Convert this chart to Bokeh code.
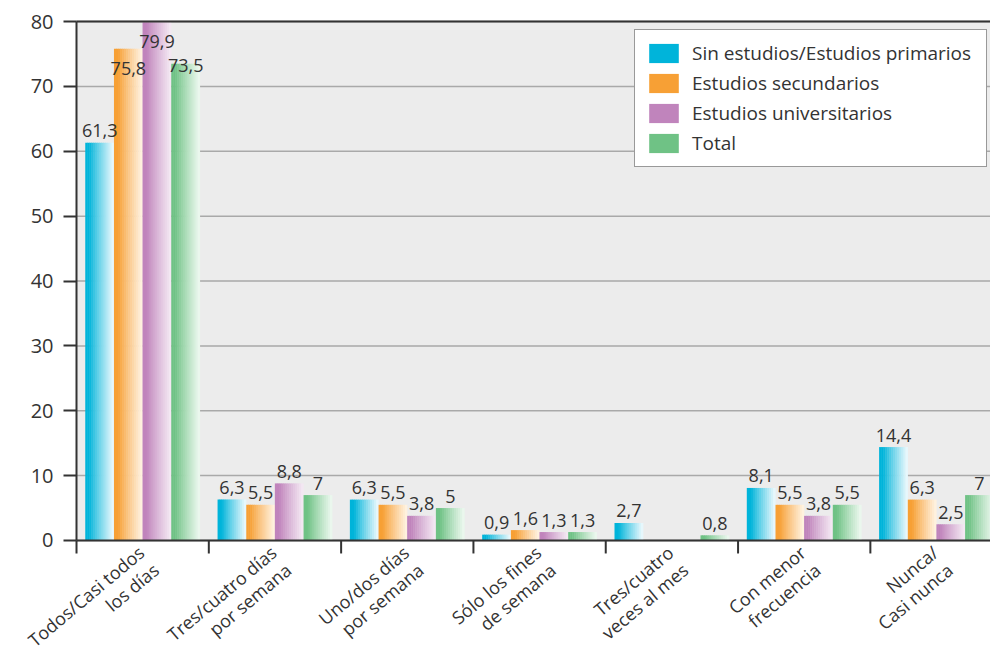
import math
from bokeh.plotting import figure
from bokeh.models import ColumnDataSource, Range1d, FixedTicker, Legend, LegendItem, BoxAnnotation
from bokeh.core.properties import value
from bokeh.embed import file_html
from bokeh.resources import INLINE

# ---------------- data ----------------
categories = [
    "Todos/Casi todos\nlos días",
    "Tres/cuatro días\npor semana",
    "Uno/dos días\npor semana",
    "Sólo los fines\nde semana",
    "Tres/cuatro\nveces al mes",
    "Con menor\nfrecuencia",
    "Nunca/\nCasi nunca",
]
series_names = [
    "Sin estudios/Estudios primarios",
    "Estudios secundarios",
    "Estudios universitarios",
    "Total",
]
sin_estudios = [61.3, 6.3, 6.3, 0.9, 2.7, 8.1, 14.4]
secundarios = [75.8, 5.5, 5.5, 1.6, None, 5.5, 6.3]
universitarios = [79.9, 8.8, 3.8, 1.3, None, 3.8, 2.5]
total = [73.5, 7.0, 5.0, 1.3, 0.8, 5.5, 7.0]
y_ticks = [0, 10, 20, 30, 40, 50, 60, 70, 80]

series_values = [sin_estudios, secundarios, universitarios, total]

# ---------------- style ----------------
FONT = "Open Sans"
TXT = "#333333"
AXIS = "#333333"
base_colors = [(0, 180, 218), (247, 160, 53), (192, 132, 188), (111, 194, 133)]
light_colors = [(230, 247, 252), (255, 241, 222), (243, 231, 242), (234, 247, 237)]
offsets = [-0.325, -0.108, 0.108, 0.325]
bar_w = 0.214
N_STRIPS = 14
DEFAULT_DY = -12
label_shift = {(0, 1): 20, (0, 2): 19, (0, 3): 2}
X_MIN = -0.5745     # room left of the first category for the y-axis labels
X_MAX = 6.908
Y_MIN = -17.42      # room below zero for the rotated category labels
Y_MAX = 83.24       # room above 80 for the top tick label
TICK_LEN = 2.0      # category tick length (data units, ~13 px)
n_cat = len(categories)


def mix(c1, c2, t):
    return "#%02x%02x%02x" % tuple(int(round(a + (b - a) * t)) for a, b in zip(c1, c2))


def fmt(v):
    if abs(v - round(v)) < 1e-9:
        return str(int(round(v)))
    return ("%.1f" % v).replace(".", ",")


p = figure(
    width=990, height=653, output_backend="svg", toolbar_location=None,
    x_range=Range1d(X_MIN, X_MAX), y_range=Range1d(Y_MIN, Y_MAX),
    x_axis_location=None,
    min_border_left=0, min_border_right=0, min_border_top=0, min_border_bottom=0,
)
p.background_fill_color = "white"
p.border_fill_color = "white"
p.outline_line_color = None
p.xgrid.grid_line_color = None
p.ygrid.grid_line_color = None

# grey plotting area
p.add_layout(BoxAnnotation(left=0, bottom=0, top=80, fill_color="#ececec", fill_alpha=1.0,
                           line_color=None, level="underlay"))

# horizontal grid lines (grey) from the y axis rightwards
p.segment(x0=[0] * len(y_ticks), y0=y_ticks, x1=[n_cat] * len(y_ticks), y1=y_ticks,
          line_color="#a9a9a9", line_width=1.5)

renderers = []
for s, vals in enumerate(series_values):
    xs, tops, cols = [], [], []
    for i, v in enumerate(vals):
        if v is None:
            continue
        left = i + 0.5 + offsets[s] - bar_w / 2
        for k in range(N_STRIPS):
            t = k / (N_STRIPS - 1)
            tt = max(0.0, (t - 0.12) / 0.88) ** 0.9
            xs.append(left + (k + 0.5) * bar_w / N_STRIPS)
            tops.append(v)
            cols.append(mix(base_colors[s], light_colors[s], tt))
    src = ColumnDataSource(dict(x=xs, top=tops, color=cols))
    r = p.vbar(x="x", top="top", bottom=0, width=bar_w / N_STRIPS * 1.25,
               fill_color="color", line_color=None, source=src)
    renderers.append(r)

# dark top line and x axis line
p.segment(x0=[0, 0], y0=[80, 0], x1=[n_cat, n_cat], y1=[80, 0], line_color=AXIS, line_width=2)

# category boundary ticks
bounds = list(range(n_cat + 1))
p.segment(x0=bounds, y0=[0] * len(bounds), x1=bounds, y1=[-TICK_LEN] * len(bounds),
          line_color=AXIS, line_width=2)

# value labels
lx, ly, lt, ldy = [], [], [], []
for s, vals in enumerate(series_values):
    for i, v in enumerate(vals):
        if v is None:
            continue
        lx.append(i + 0.5 + offsets[s])
        ly.append(v)
        lt.append(fmt(v))
        ldy.append(label_shift.get((i, s), DEFAULT_DY))
p.text(x="x", y="y", text="t", y_offset="dy",
       source=ColumnDataSource(dict(x=lx, y=ly, t=lt, dy=ldy)),
       text_align="center", text_baseline="alphabetic",
       text_font=value(FONT), text_font_size="18px", text_color=TXT)

# category labels
centers = [i + 0.5 for i in range(n_cat)]
p.text(x=centers, y=[-TICK_LEN] * n_cat, text=categories,
       angle=math.radians(40), x_offset=-9, y_offset=-13,
       text_align="right", text_baseline="top", text_line_height=0.95,
       text_font=value(FONT), text_font_size="18px", text_color=TXT)

# y axis, fixed at x = 0
p.yaxis.fixed_location = 0
p.yaxis.bounds = (0, 80)
p.yaxis.ticker = FixedTicker(ticks=y_ticks)
p.yaxis.major_label_text_font = FONT
p.yaxis.major_label_text_font_size = "20px"
p.yaxis.major_label_text_color = TXT
p.yaxis.major_tick_out = 13
p.yaxis.major_tick_in = 0
p.yaxis.minor_tick_line_color = None
p.yaxis.axis_line_color = AXIS
p.yaxis.axis_line_width = 2
p.yaxis.major_tick_line_color = AXIS
p.yaxis.major_tick_line_width = 2
p.yaxis.major_label_standoff = 10

legend = Legend(
    items=[LegendItem(label=n, renderers=[r]) for n, r in zip(series_names, renderers)],
    location=(634, 486),
    label_text_font=FONT, label_text_font_size="19px", label_text_color=TXT,
    glyph_width=37, glyph_height=24, label_standoff=10, spacing=4,
    padding=10, margin=0, label_width=284,
    border_line_color="#333333", border_line_width=1.5,
    background_fill_color="white", background_fill_alpha=1.0,
)
p.add_layout(legend)

open("out.html", "w").write(file_html(p, INLINE))
